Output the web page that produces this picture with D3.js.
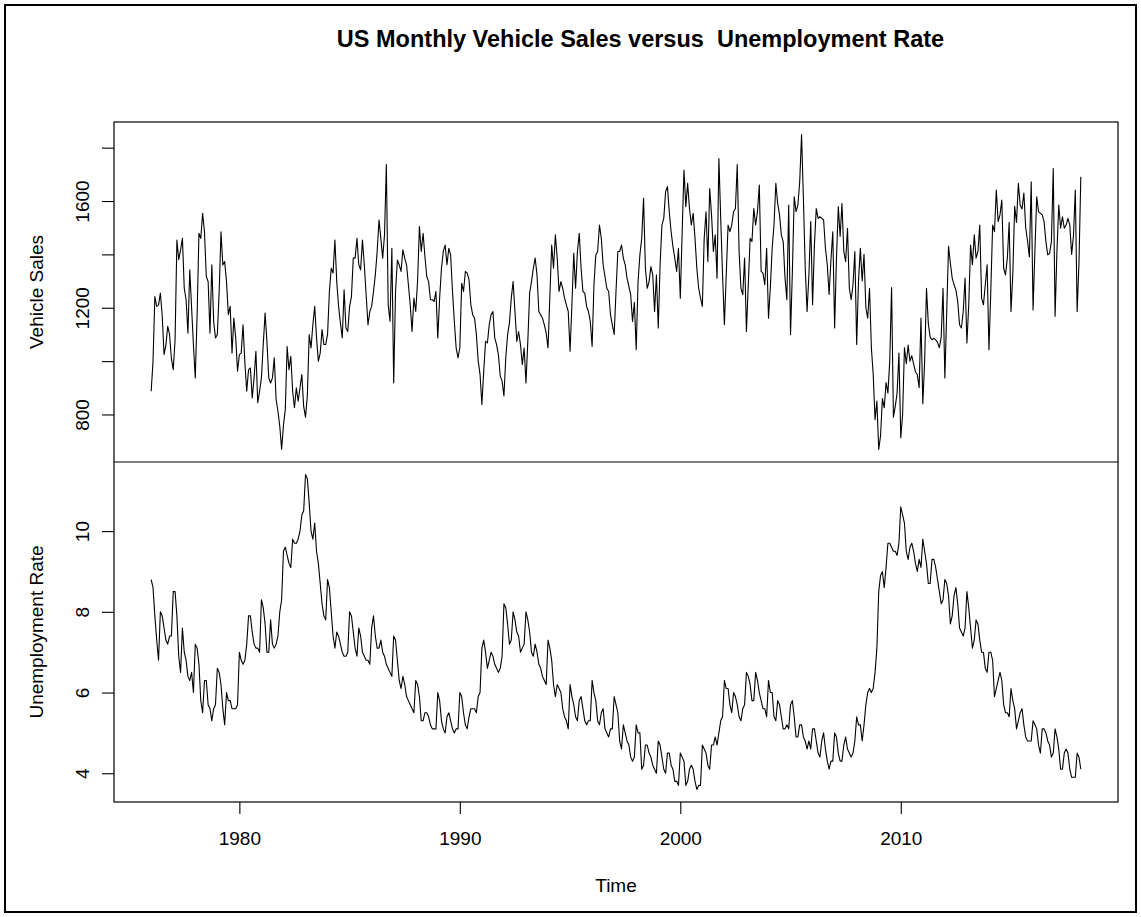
<!DOCTYPE html>
<html>
<head>
<meta charset="utf-8">
<script src="https://cdn.jsdelivr.net/npm/d3@7"></script>
<style>
  body { margin: 0; background: #fff; }
  text { font-family: "Liberation Sans", Arial, sans-serif; fill: #000; }
</style>
</head>
<body>
<svg id="chart" width="1141" height="917"></svg>
<script>
// Monthly series, January 1976 onward
const startYear = 1976;

// Total vehicle sales, thousands of units (not seasonally adjusted)
const vehicleSales = [
  887, 1000, 1242, 1205, 1210, 1255, 1170, 1025, 1060, 1130, 1100, 1010,   // 1976
  968, 1080, 1454, 1380, 1417, 1460, 1273, 1230, 1105, 1342, 1200, 1060,   // 1977
  937, 1174, 1479, 1460, 1554, 1485, 1317, 1298, 1105, 1361, 1149, 1087,   // 1978
  1100, 1260, 1485, 1360, 1373, 1298, 1174, 1205, 1030, 1161, 1087, 962,   // 1979
  1024, 1030, 1136, 993, 887, 968, 974, 862, 937, 1037, 844, 887,          // 1980
  937, 1062, 1180, 1074, 937, 918, 937, 1012, 856, 812, 756, 670,          // 1981
  760, 819, 1055, 968, 1018, 887, 825, 900, 850, 900, 950, 830,            // 1982
  790, 870, 1099, 1049, 1136, 1205, 1087, 1000, 1030, 1118, 1062, 1062,    // 1983
  1100, 1261, 1348, 1330, 1454, 1298, 1205, 1143, 1087, 1267, 1124, 1111,  // 1984
  1205, 1242, 1386, 1386, 1460, 1361, 1342, 1454, 1361, 1249, 1136, 1186,  // 1985
  1205, 1261, 1323, 1411, 1529, 1460, 1386, 1473, 1737, 1211, 1149, 1423,  // 1986
  918, 1261, 1379, 1361, 1336, 1417, 1386, 1361, 1286, 1211, 1111, 1236,   // 1987
  1186, 1300, 1504, 1411, 1479, 1392, 1317, 1298, 1230, 1230, 1224, 1261,  // 1988
  1087, 1236, 1348, 1411, 1435, 1361, 1423, 1398, 1261, 1149, 1049, 1012,  // 1989
  1050, 1292, 1261, 1336, 1330, 1305, 1211, 1174, 1161, 1100, 1000, 950,   // 1990
  837, 962, 1074, 1068, 1136, 1174, 1186, 1087, 1062, 1024, 943, 925,      // 1991
  869, 1012, 1099, 1143, 1236, 1298, 1186, 1074, 1111, 1062, 987, 1049,    // 1992
  918, 1074, 1255, 1298, 1348, 1386, 1323, 1186, 1174, 1161, 1136, 1105,   // 1993
  1049, 1242, 1435, 1348, 1473, 1386, 1261, 1298, 1273, 1236, 1211, 1186,  // 1994
  1037, 1211, 1404, 1273, 1411, 1479, 1348, 1261, 1255, 1205, 1186, 1149,  // 1995
  1055, 1286, 1398, 1411, 1510, 1460, 1361, 1317, 1273, 1261, 1174, 1136,  // 1996
  1100, 1261, 1411, 1411, 1435, 1386, 1361, 1311, 1280, 1249, 1149, 1220,  // 1997
  1043, 1298, 1398, 1460, 1610, 1348, 1273, 1298, 1354, 1323, 1186, 1323,  // 1998
  1124, 1361, 1510, 1535, 1635, 1654, 1560, 1485, 1429, 1386, 1336, 1423,  // 1999
  1236, 1480, 1716, 1579, 1666, 1572, 1510, 1554, 1460, 1348, 1273, 1236,  // 2000
  1205, 1460, 1560, 1373, 1647, 1548, 1411, 1473, 1311, 1759, 1535, 1323,  // 2001
  1136, 1323, 1510, 1485, 1510, 1560, 1572, 1737, 1411, 1273, 1249, 1386,  // 2002
  1111, 1286, 1460, 1448, 1572, 1510, 1560, 1660, 1336, 1330, 1286, 1423,  // 2003
  1161, 1273, 1423, 1510, 1666, 1591, 1548, 1473, 1448, 1311, 1230, 1585,  // 2004
  1099, 1336, 1616, 1560, 1585, 1672, 1849, 1610, 1348, 1186, 1323, 1523,  // 2005
  1211, 1435, 1572, 1535, 1541, 1535, 1529, 1423, 1361, 1250, 1380, 1485,  // 2006
  1124, 1386, 1579, 1467, 1591, 1411, 1373, 1498, 1273, 1230, 1286, 1411,  // 2007
  1062, 1300, 1423, 1300, 1400, 1200, 1161, 1273, 1050, 950, 780, 850,     // 2008
  669, 720, 860, 825, 920, 880, 1000, 1276, 790, 830, 880, 1030,           // 2009
  713, 800, 1050, 990, 1060, 1000, 1020, 990, 960, 950, 900, 1161,         // 2010
  840, 1000, 1273, 1140, 1090, 1080, 1085, 1080, 1070, 1050, 1090, 1273,   // 2011
  937, 1180, 1430, 1367, 1311, 1286, 1267, 1224, 1136, 1124, 1186, 1311,   // 2012
  1068, 1211, 1435, 1361, 1473, 1386, 1411, 1510, 1236, 1211, 1286, 1361,  // 2013
  1043, 1261, 1510, 1485, 1641, 1523, 1548, 1604, 1348, 1323, 1386, 1520,  // 2014
  1186, 1330, 1580, 1520, 1666, 1585, 1570, 1630, 1500, 1450, 1390, 1672,  // 2015
  1192, 1411, 1616, 1560, 1554, 1548, 1523, 1448, 1398, 1404, 1448, 1722,  // 2016
  1168, 1411, 1585, 1498, 1541, 1498, 1510, 1535, 1510, 1400, 1470, 1641,  // 2017
  1186, 1370, 1691                                                         // 2018
];

// Civilian unemployment rate, percent (not seasonally adjusted)
const unemploymentRate = [
  8.8, 8.6, 7.9, 7.3, 6.8, 8.0, 7.9, 7.6, 7.3, 7.2, 7.4, 7.4,        // 1976
  8.5, 8.5, 7.9, 6.9, 6.5, 7.6, 7.0, 6.8, 6.4, 6.3, 6.5, 6.0,        // 1977
  7.2, 7.1, 6.7, 5.8, 5.5, 6.3, 6.3, 5.7, 5.6, 5.3, 5.6, 5.7,        // 1978
  6.6, 6.5, 6.2, 5.6, 5.2, 6.0, 5.8, 5.8, 5.6, 5.6, 5.6, 5.7,        // 1979
  7.0, 6.8, 6.7, 6.8, 7.2, 7.9, 7.9, 7.5, 7.2, 7.1, 7.1, 7.0,        // 1980
  8.3, 8.1, 7.7, 7.0, 7.0, 7.8, 7.2, 7.1, 7.2, 7.4, 8.0, 8.3,        // 1981
  9.5, 9.6, 9.4, 9.2, 9.1, 9.8, 9.7, 9.7, 9.8, 10.0, 10.4, 10.5,     // 1982
  11.4, 11.3, 10.7, 10.0, 9.8, 10.2, 9.5, 9.2, 8.7, 8.2, 7.9, 7.8,   // 1983
  8.8, 8.6, 8.0, 7.4, 7.1, 7.5, 7.4, 7.2, 7.0, 6.9, 6.9, 7.0,        // 1984
  8.0, 7.9, 7.5, 7.1, 6.9, 7.6, 7.4, 7.0, 6.9, 6.8, 6.8, 6.7,        // 1985
  7.6, 7.9, 7.4, 7.1, 7.1, 7.3, 7.0, 6.9, 6.7, 6.6, 6.5, 6.4,        // 1986
  7.4, 7.3, 6.8, 6.3, 6.1, 6.4, 6.2, 5.9, 5.8, 5.7, 5.6, 5.5,        // 1987
  6.3, 6.2, 5.9, 5.3, 5.3, 5.5, 5.5, 5.4, 5.2, 5.1, 5.1, 5.1,        // 1988
  6.0, 5.8, 5.3, 5.1, 5.0, 5.4, 5.5, 5.3, 5.1, 5.0, 5.1, 5.1,        // 1989
  6.0, 5.9, 5.5, 5.2, 5.1, 5.4, 5.6, 5.6, 5.6, 5.5, 5.9, 6.0,        // 1990
  7.1, 7.3, 7.0, 6.6, 6.8, 7.0, 6.9, 6.7, 6.6, 6.5, 6.6, 6.9,        // 1991
  8.2, 8.1, 7.7, 7.2, 7.3, 8.0, 7.8, 7.5, 7.4, 7.0, 7.1, 7.2,        // 1992
  8.0, 7.8, 7.5, 7.0, 6.9, 7.2, 7.0, 6.7, 6.6, 6.4, 6.3, 6.2,        // 1993
  7.3, 7.1, 6.8, 6.2, 5.9, 6.2, 6.1, 6.0, 5.6, 5.4, 5.3, 5.1,        // 1994
  6.2, 5.9, 5.7, 5.4, 5.3, 5.8, 5.9, 5.6, 5.3, 5.2, 5.3, 5.3,        // 1995
  6.3, 6.0, 5.8, 5.3, 5.2, 5.5, 5.6, 5.1, 5.0, 4.9, 5.1, 5.1,        // 1996
  5.9, 5.7, 5.5, 4.8, 4.6, 5.2, 5.0, 4.8, 4.7, 4.4, 4.3, 4.4,        // 1997
  5.2, 5.0, 5.0, 4.1, 4.2, 4.7, 4.7, 4.5, 4.4, 4.2, 4.1, 4.0,        // 1998
  4.8, 4.7, 4.4, 4.1, 4.0, 4.5, 4.5, 4.2, 4.1, 3.8, 3.8, 3.7,        // 1999
  4.5, 4.4, 4.3, 3.7, 3.8, 4.1, 4.2, 4.1, 3.8, 3.6, 3.7, 3.7,        // 2000
  4.7, 4.6, 4.5, 4.2, 4.1, 4.7, 4.7, 4.9, 4.7, 5.0, 5.3, 5.4,        // 2001
  6.3, 6.1, 6.1, 5.7, 5.5, 6.0, 5.9, 5.7, 5.4, 5.3, 5.6, 5.7,        // 2002
  6.5, 6.4, 6.2, 5.8, 5.8, 6.5, 6.3, 6.0, 5.8, 5.6, 5.6, 5.4,        // 2003
  6.3, 6.0, 6.0, 5.4, 5.3, 5.8, 5.7, 5.4, 5.1, 5.1, 5.2, 5.1,        // 2004
  5.7, 5.8, 5.4, 4.9, 4.9, 5.2, 5.2, 4.9, 4.8, 4.6, 4.8, 4.6,        // 2005
  5.1, 5.1, 4.8, 4.5, 4.4, 4.8, 5.0, 4.6, 4.3, 4.1, 4.3, 4.3,        // 2006
  5.0, 4.9, 4.5, 4.3, 4.3, 4.7, 4.9, 4.6, 4.5, 4.4, 4.5, 4.8,        // 2007
  5.4, 5.2, 5.2, 4.8, 5.2, 5.7, 6.0, 6.1, 6.0, 6.1, 6.5, 7.1,        // 2008
  8.5, 8.9, 9.0, 8.6, 9.1, 9.7, 9.7, 9.6, 9.5, 9.5, 9.4, 9.7,        // 2009
  10.6, 10.4, 10.2, 9.5, 9.3, 9.6, 9.7, 9.5, 9.2, 9.0, 9.3, 9.1,     // 2010
  9.8, 9.5, 9.2, 8.7, 8.7, 9.3, 9.3, 9.1, 8.8, 8.5, 8.2, 8.3,        // 2011
  8.8, 8.7, 8.4, 7.7, 7.9, 8.4, 8.6, 8.2, 7.6, 7.5, 7.4, 7.6,        // 2012
  8.5, 8.1, 7.6, 7.1, 7.3, 7.8, 7.7, 7.3, 7.0, 7.0, 6.6, 6.5,        // 2013
  7.0, 7.0, 6.8, 5.9, 6.1, 6.3, 6.5, 6.3, 5.7, 5.5, 5.5, 5.4,        // 2014
  6.1, 5.8, 5.6, 5.1, 5.3, 5.5, 5.6, 5.2, 4.9, 4.8, 4.8, 4.8,        // 2015
  5.3, 5.2, 5.1, 4.7, 4.5, 5.1, 5.1, 5.0, 4.8, 4.7, 4.4, 4.5,        // 2016
  5.1, 4.9, 4.6, 4.1, 4.1, 4.5, 4.6, 4.5, 4.1, 3.9, 3.9, 3.9,        // 2017
  4.5, 4.4, 4.1                                                      // 2018
];

// Axis ticks and labels
const timeTicks = [1980, 1990, 2000, 2010];
const salesTicks = [800, 1000, 1200, 1400, 1600, 1800];
const salesTickLabels = [800, 1200, 1600];
const rateTicks = [4, 6, 8, 10];

const chartTitle = "US Monthly Vehicle Sales versus\u00a0 Unemployment Rate";
const salesTitle = "Vehicle Sales";
const rateTitle = "Unemployment Rate";
const timeTitle = "Time";

// Layout
const W = 1141, H = 917;
const box = { left: 114, right: 1118, top: 122, mid: 462, bottom: 802 };
const fontSize = 19;
const tickLen = 12;

const svg = d3.select("#chart");

// Outer frame
svg.append("rect")
  .attr("x", 5).attr("y", 5)
  .attr("width", W - 10).attr("height", H - 10)
  .attr("fill", "none").attr("stroke", "#000").attr("stroke-width", 2);

const times = vehicleSales.map((_, i) => startYear + i / 12);

// R-style 4% padding around the data range
function padded(ext) {
  const p = (ext[1] - ext[0]) * 0.04;
  return [ext[0] - p, ext[1] + p];
}

const x = d3.scaleLinear().domain(padded(d3.extent(times))).range([box.left, box.right]);
const ySales = d3.scaleLinear().domain(padded(d3.extent(vehicleSales))).range([box.mid, box.top]);
const yRate = d3.scaleLinear().domain(padded(d3.extent(unemploymentRate))).range([box.bottom, box.mid]);

// Series lines
const salesLine = d3.line().x((d, i) => x(times[i])).y(d => ySales(d));
const rateLine = d3.line().x((d, i) => x(times[i])).y(d => yRate(d));

svg.append("path").datum(vehicleSales)
  .attr("d", salesLine).attr("fill", "none")
  .attr("stroke", "#000").attr("stroke-width", 1.1).attr("stroke-linejoin", "round");

svg.append("path").datum(unemploymentRate)
  .attr("d", rateLine).attr("fill", "none")
  .attr("stroke", "#000").attr("stroke-width", 1.1).attr("stroke-linejoin", "round");

// Panel frames
svg.append("rect")
  .attr("x", box.left).attr("y", box.top)
  .attr("width", box.right - box.left).attr("height", box.bottom - box.top)
  .attr("fill", "none").attr("stroke", "#000").attr("stroke-width", 1.2);
svg.append("line")
  .attr("x1", box.left).attr("x2", box.right)
  .attr("y1", box.mid).attr("y2", box.mid)
  .attr("stroke", "#000").attr("stroke-width", 1.2);

// Left axes with labels rotated along the axis
function leftAxis(scale, ticks, labelled) {
  const g = svg.append("g").attr("transform", `translate(${box.left},0)`)
    .call(d3.axisLeft(scale).tickValues(ticks).tickSize(tickLen)
      .tickFormat(d => labelled.includes(d) ? String(d) : ""));
  g.select(".domain").remove();
  g.selectAll(".tick line").attr("stroke", "#000").attr("stroke-width", 1.1);
  g.selectAll(".tick text")
    .attr("transform", "rotate(-90)")
    .attr("x", 0).attr("y", -25).attr("dy", 0)
    .attr("text-anchor", "middle")
    .style("font-family", '"Liberation Sans", Arial, sans-serif')
    .style("font-size", fontSize + "px")
    .attr("fill", "#000");
  return g;
}
leftAxis(ySales, salesTicks, salesTickLabels);
leftAxis(yRate, rateTicks, rateTicks);

// Bottom time axis
const gx = svg.append("g").attr("transform", `translate(0,${box.bottom})`)
  .call(d3.axisBottom(x).tickValues(timeTicks).tickSize(tickLen).tickPadding(18)
    .tickFormat(d3.format("d")));
gx.select(".domain").remove();
gx.selectAll(".tick line").attr("stroke", "#000").attr("stroke-width", 1.1);
gx.selectAll(".tick text")
  .style("font-family", '"Liberation Sans", Arial, sans-serif')
  .style("font-size", fontSize + "px")
  .attr("fill", "#000");

// Titles
svg.append("text")
  .attr("x", 640.5).attr("y", 47)
  .attr("text-anchor", "middle")
  .style("font-size", "23.5px").style("font-weight", "bold")
  .text(chartTitle);

svg.append("text")
  .attr("transform", `translate(43,${(box.top + box.mid) / 2}) rotate(-90)`)
  .attr("text-anchor", "middle")
  .style("font-size", fontSize + "px")
  .text(salesTitle);

svg.append("text")
  .attr("transform", `translate(43,${(box.mid + box.bottom) / 2}) rotate(-90)`)
  .attr("text-anchor", "middle")
  .style("font-size", fontSize + "px")
  .text(rateTitle);

svg.append("text")
  .attr("x", (box.left + box.right) / 2).attr("y", 892)
  .attr("text-anchor", "middle")
  .style("font-size", fontSize + "px")
  .text(timeTitle);
</script>
</body>
</html>
